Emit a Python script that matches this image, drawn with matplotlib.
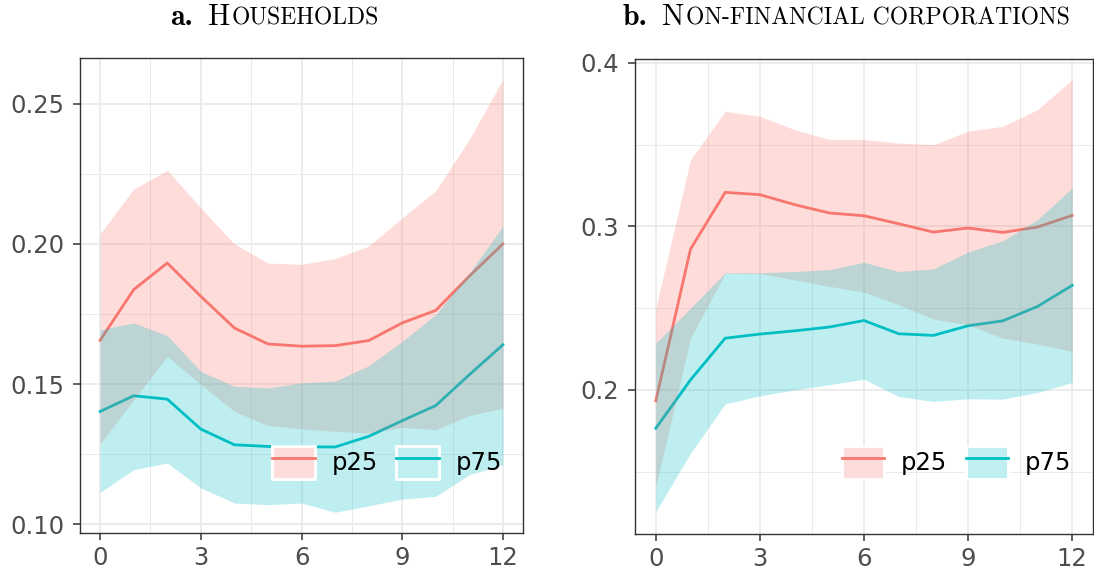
import numpy as np
import matplotlib
matplotlib.use("Agg")
import matplotlib.pyplot as plt
from matplotlib.lines import Line2D
from matplotlib.patches import Patch
from matplotlib.colors import to_rgb
from matplotlib.offsetbox import TextArea, HPacker, AnnotationBbox

# horizon (months)
h = list(range(13))

# a. Households
hh_p25 = [0.1656, 0.1837, 0.1932, 0.1813, 0.1700, 0.1643, 0.1635, 0.1637, 0.1655, 0.1718, 0.1763, 0.1885, 0.2000]
hh_p25_hi = [0.2037, 0.2196, 0.2263, 0.2129, 0.2000, 0.1932, 0.1927, 0.1948, 0.1992, 0.2093, 0.2190, 0.2373, 0.2587]
hh_p25_lo = [0.1286, 0.1444, 0.1599, 0.1498, 0.1402, 0.1352, 0.1340, 0.1331, 0.1325, 0.1345, 0.1337, 0.1387, 0.1414]
hh_p75 = [0.1402, 0.1458, 0.1446, 0.1339, 0.1283, 0.1277, 0.1276, 0.1275, 0.1313, 0.1369, 0.1423, 0.1533, 0.1640]
hh_p75_hi = [0.1694, 0.1718, 0.1673, 0.1545, 0.1492, 0.1486, 0.1504, 0.1510, 0.1565, 0.1652, 0.1748, 0.1896, 0.2063]
hh_p75_lo = [0.1113, 0.1194, 0.1218, 0.1129, 0.1075, 0.1069, 0.1075, 0.1042, 0.1065, 0.1089, 0.1099, 0.1176, 0.1212]

# b. Non-financial corporations
nfc_p25 = [0.1933, 0.2861, 0.3208, 0.3194, 0.3133, 0.3082, 0.3065, 0.3016, 0.2965, 0.2990, 0.2963, 0.2996, 0.3067]
nfc_p25_hi = [0.2500, 0.3408, 0.3704, 0.3673, 0.3592, 0.3531, 0.3531, 0.3510, 0.3500, 0.3582, 0.3612, 0.3714, 0.3898]
nfc_p25_lo = [0.1408, 0.2316, 0.2712, 0.2710, 0.2673, 0.2633, 0.2598, 0.2520, 0.2433, 0.2398, 0.2316, 0.2280, 0.2235]
nfc_p75 = [0.1765, 0.2061, 0.2316, 0.2341, 0.2361, 0.2384, 0.2424, 0.2343, 0.2333, 0.2392, 0.2422, 0.2510, 0.2639]
nfc_p75_hi = [0.2286, 0.2500, 0.2716, 0.2716, 0.2724, 0.2735, 0.2780, 0.2724, 0.2740, 0.2843, 0.2912, 0.3041, 0.3235]
nfc_p75_lo = [0.1255, 0.1612, 0.1914, 0.1963, 0.2000, 0.2031, 0.2065, 0.1959, 0.1929, 0.1945, 0.1943, 0.1984, 0.2045]

RED = "#F8766D"
CYAN = "#00BFC4"
ALPHA = 0.25

W, H = 1094, 574
fig = plt.figure(figsize=(W / 100, H / 100), dpi=100)


def pos(l, t, r, b):
    return [l / W, 1 - b / H, (r - l) / W, (b - t) / H]


def on_white(col, a):
    r, g, b = to_rgb(col)
    return (1 - a + a * r, 1 - a + a * g, 1 - a + a * b)


def panel(ax, series, ymajor, yminor, ylim, ylabels):
    ax.set_axisbelow(True)
    ax.set_xticks([0, 3, 6, 9, 12])
    ax.set_xticks([1.5, 4.5, 7.5, 10.5], minor=True)
    ax.set_yticks(ymajor)
    ax.set_yticklabels(ylabels)
    ax.set_yticks(yminor, minor=True)
    ax.grid(which="major", color="#EBEBEB", lw=1.3)
    ax.grid(which="minor", color="#EBEBEB", lw=0.7)
    ax.tick_params(which="major", length=5, width=1.1, color="#333333",
                   labelsize=17.5, labelcolor="#4D4D4D")
    ax.tick_params(axis="y", pad=6.5)
    ax.tick_params(axis="x", pad=4.5)
    ax.tick_params(which="minor", length=0)
    for s in ax.spines.values():
        s.set_color("#333333")
        s.set_linewidth(1)
    for mid, lo, hi, col in series:
        ax.plot(h, mid, color=col, lw=2.0, zorder=2)
    for mid, lo, hi, col in series:
        ax.fill_between(h, lo, hi, color=col, alpha=ALPHA, lw=0, zorder=3)
    ax.set_xlim(-0.6, 12.6)
    ax.set_ylim(*ylim)


def legend(ax, anchor):
    handles = []
    for col in (RED, CYAN):
        handles.append((Patch(facecolor=on_white(col, ALPHA), edgecolor="white", lw=2),
                        Line2D([], [], color=col, lw=2.0)))
    ax.legend(handles, ["p25", "p75"], ncol=2, frameon=False, loc="lower right",
              bbox_to_anchor=anchor, fontsize=17.5, handlelength=1.75, handleheight=1.75,
              handletextpad=0.7, columnspacing=0.75, borderpad=0, borderaxespad=0)


def title(x, y, bold, big, small):
    parts = [TextArea(bold, textprops=dict(family="cmb10", size=21.5)),
             TextArea(" ", textprops=dict(family="cmr10", size=21.5)),
             TextArea(big, textprops=dict(family="cmr10", size=21.5)),
             TextArea(small, textprops=dict(family="cmr10", size=17))]
    box = HPacker(children=parts, align="baseline", pad=0, sep=1.5)
    ab = AnnotationBbox(box, (x, y), xycoords="figure fraction", frameon=False,
                        box_alignment=(0.5, 0.5))
    fig.add_artist(ab)


ax1 = fig.add_axes(pos(80, 58, 523, 533))
panel(ax1, [(hh_p25, hh_p25_lo, hh_p25_hi, RED), (hh_p75, hh_p75_lo, hh_p75_hi, CYAN)],
      [0.10, 0.15, 0.20, 0.25], [0.125, 0.175, 0.225], (0.0968, 0.2664),
      ["0.10", "0.15", "0.20", "0.25"])
legend(ax1, (0.953, 0.113))

ax2 = fig.add_axes(pos(635, 59, 1093, 534))
panel(ax2, [(nfc_p25, nfc_p25_lo, nfc_p25_hi, RED), (nfc_p75, nfc_p75_lo, nfc_p75_hi, CYAN)],
      [0.2, 0.3, 0.4], [0.15, 0.25, 0.35], (0.1118, 0.4024),
      ["0.2", "0.3", "0.4"])
legend(ax2, (0.953, 0.115))

title(274.5 / W, 1 - 17 / H, "a.", "H", "OUSEHOLDS")
title(846 / W, 1 - 17 / H, "b.", "N", "ON-FINANCIAL CORPORATIONS")

fig.savefig("out.png", dpi=100)
